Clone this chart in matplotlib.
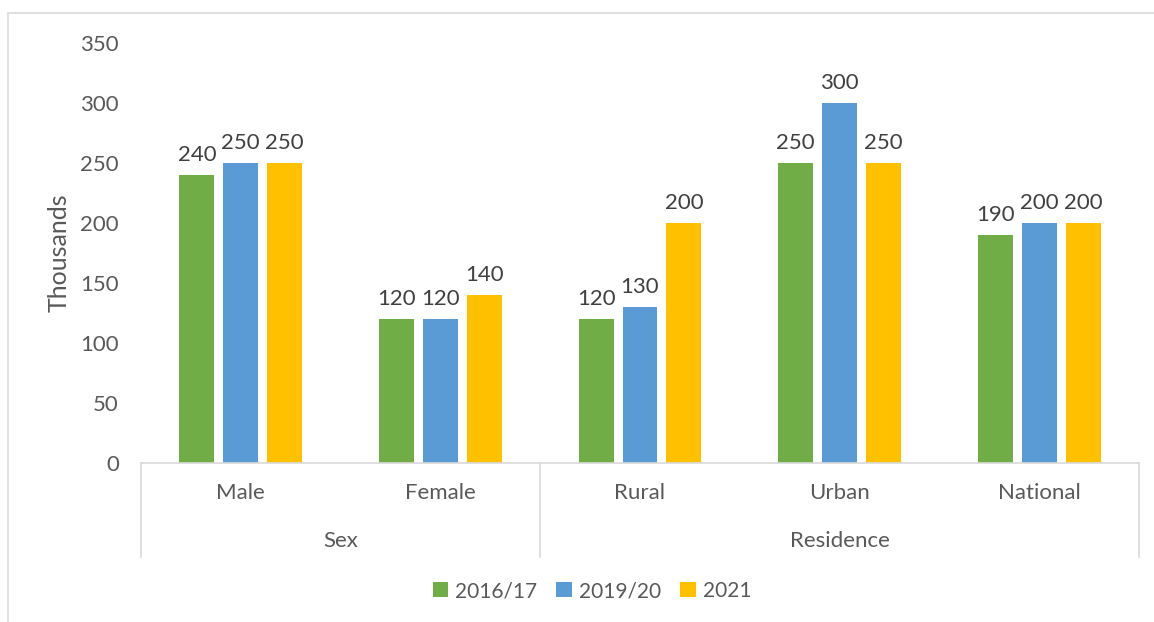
import matplotlib
matplotlib.use("Agg")
import matplotlib.pyplot as plt
import matplotlib.transforms as mtransforms
from matplotlib.patches import Rectangle
import numpy as np

categories = ["Male", "Female", "Rural", "Urban", "National"]
groups = ["Sex", "Residence"]
group_spans = [(0, 1), (2, 4)]
series_names = ["2016/17", "2019/20", "2021"]
values_2016 = [240, 120, 120, 250, 190]
values_2019 = [250, 120, 130, 300, 200]
values_2021 = [250, 140, 200, 250, 200]
colors = ["#70AD47", "#5B9BD5", "#FFC000"]
yticks = [0, 50, 100, 150, 200, 250, 300, 350]

plt.rcParams['font.family'] = ['Lato', 'DejaVu Sans']
txt = "#595959"
fs = 16

W, H = 1154, 622
fig = plt.figure(figsize=(W/100, H/100), dpi=100)
ax = fig.add_axes([141/W, 159/H, (1139-141)/W, 420/H])

x = np.arange(len(categories))
width = 0.175
offset = 0.22
for i, (vals, name, c) in enumerate(zip([values_2016, values_2019, values_2021], series_names, colors)):
    bars = ax.bar(x + (i-1)*offset, vals, width, color=c, label=name)
    for b, v in zip(bars, vals):
        ax.text(b.get_x()+b.get_width()/2, v + 8, f"{v}", ha='center', va='bottom',
                fontsize=fs, color="#404040")

ax.set_xlim(-0.5, len(categories)-0.5)
ax.set_ylim(0, 350)
ax.set_yticks(yticks)
ax.set_yticklabels([str(t) for t in yticks], fontsize=fs, color=txt)
ax.tick_params(axis='y', length=0, pad=16)
ax.set_xticks([])
for s in ['top', 'right', 'left']:
    ax.spines[s].set_visible(False)
ax.spines['bottom'].set_color('#d9d9d9')
ax.spines['bottom'].set_linewidth(1.2)
ax.set_ylabel("Thousands", fontsize=18, color=txt)
ax.yaxis.set_label_coords((71-141)/(1139-141), 0.5)

trans = mtransforms.blended_transform_factory(ax.transData, ax.transAxes)
axh = 420.0
for xi, c in zip(x, categories):
    ax.text(xi, -30/axh, c, transform=trans, ha='center', va='center', fontsize=fs, color=txt)
for g, (a, b) in zip(groups, group_spans):
    ax.text((a+b)/2, -78/axh, g, transform=trans, ha='center', va='center', fontsize=fs, color=txt)
for sx in [-0.5, 1.5, 4.5]:
    ax.plot([sx, sx], [0, -94/axh], transform=trans, color='#d9d9d9', lw=1.2, clip_on=False)

fig.legend(loc='center', bbox_to_anchor=(592/W, 1-591/H), ncol=3, frameon=False,
           fontsize=15, labelcolor=txt, handlelength=0.75, handleheight=0.75,
           handletextpad=0.35, columnspacing=0.9)

# outer chart border
fig.add_artist(Rectangle((8/W, -0.1), 1.2, 1-13/H+0.1, transform=fig.transFigure,
                         fill=False, edgecolor='#d9d9d9', lw=1.2))

fig.savefig("out.png", dpi=100)
